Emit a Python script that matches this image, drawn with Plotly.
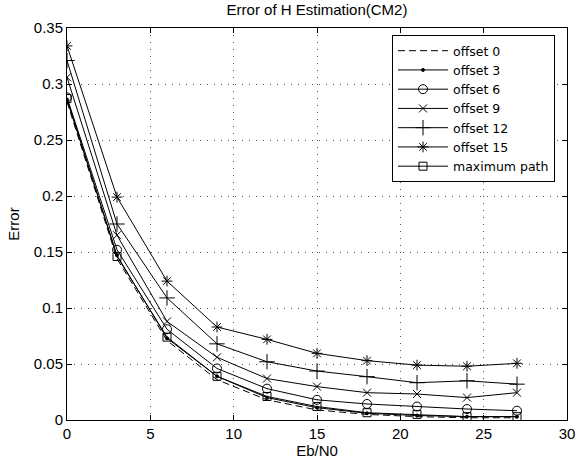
import plotly.graph_objects as go

ebn0 = [0, 3, 6, 9, 12, 15, 18, 21, 24, 27]
names = ["offset 0", "offset 3", "offset 6", "offset 9", "offset 12", "offset 15", "maximum path"]
offset0 = [0.284, 0.144, 0.071, 0.036, 0.018, 0.009, 0.005, 0.003, 0.002, 0.002]
offset3 = [0.286, 0.147, 0.073, 0.039, 0.020, 0.011, 0.006, 0.004, 0.003, 0.003]
offset6 = [0.288, 0.152, 0.081, 0.046, 0.028, 0.018, 0.0143, 0.012, 0.0098, 0.0083]
offset9 = [0.306, 0.165, 0.088, 0.056, 0.037, 0.0298, 0.0244, 0.0232, 0.020, 0.0244]
offset12 = [0.321, 0.175, 0.109, 0.068, 0.052, 0.0437, 0.0387, 0.0333, 0.035, 0.032]
offset15 = [0.334, 0.199, 0.124, 0.083, 0.072, 0.0595, 0.053, 0.049, 0.048, 0.0506]
maxpath = [0.287, 0.146, 0.074, 0.039, 0.021, 0.012, 0.0065, 0.005, 0.003, 0.003]

series = [offset0, offset3, offset6, offset9, offset12, offset15, maxpath]
styles = [
    dict(dash="dash", symbol=None, size=0),
    dict(dash="solid", symbol="circle", size=3),
    dict(dash="solid", symbol="circle-open", size=9),
    dict(dash="solid", symbol="x-thin-open", size=8),
    dict(dash="solid", symbol="cross-thin-open", size=11),
    dict(dash="solid", symbol="asterisk-open", size=9),
    dict(dash="solid", symbol="square-open", size=8),
]

fig = go.Figure()
for nm, ys, st in zip(names, series, styles):
    if st["symbol"] is None:
        fig.add_trace(go.Scatter(x=ebn0, y=ys, name=nm, mode="lines",
                                 line=dict(color="black", width=1, dash="7px,4px")))
    else:
        fig.add_trace(go.Scatter(x=ebn0, y=ys, name=nm, mode="lines+markers",
                                 line=dict(color="black", width=1, dash=st["dash"]),
                                 marker=dict(symbol=st["symbol"], size=st["size"], color="black",
                                             line=dict(color="black", width=1))))

axis_common = dict(showline=True, linecolor="black", linewidth=1, mirror="ticks",
                   ticks="inside", ticklen=5, tickcolor="black",
                   showgrid=True, gridcolor="#555555", griddash="1px,6px", gridwidth=1,
                   zeroline=False, tickfont=dict(size=15, color="black"), automargin=False)

fig.update_layout(
    width=580, height=464,
    paper_bgcolor="white", plot_bgcolor="white",
    font=dict(family="Liberation Sans, Arial, sans-serif", size=15, color="black"),
    margin=dict(l=67, r=13, t=28, b=44),
    title=dict(text="Error of H Estimation(CM2)", xref="paper", x=0.5, xanchor="center",
               y=1 - 10 / 464, yanchor="middle", font=dict(size=15)),
    xaxis=dict(range=[0, 30], tickvals=[0, 5, 10, 15, 20, 25, 30],
               title=dict(text="Eb/N0", standoff=0, font=dict(size=15)), **axis_common),
    yaxis=dict(range=[0, 0.35], tickvals=[0, 0.05, 0.1, 0.15, 0.2, 0.25, 0.3, 0.35],
               ticktext=["0", "0.05", "0.1", "0.15", "0.2", "0.25", "0.3", "0.35"],
               title=dict(text="Error", standoff=10, font=dict(size=15)), **axis_common),
    legend=dict(x=0.976, xanchor="right", y=0.982, yanchor="top",
                bgcolor="white", bordercolor="black", borderwidth=1,
                font=dict(size=12.5, family="DejaVu Sans"), tracegroupgap=0, itemwidth=50),
    showlegend=True,
)

fig.write_html("out.html", config={"displayModeBar": False},
               post_script="document.body.style.margin='0px';")
